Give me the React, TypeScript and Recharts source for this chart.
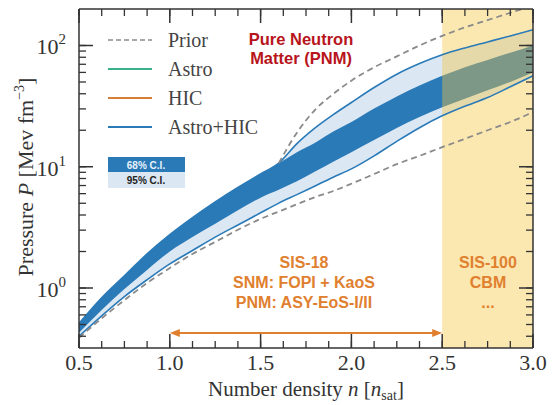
import { ComposedChart, Area, Line, XAxis, YAxis, ReferenceArea, ReferenceLine } from 'recharts';

// density n in units of n_sat
const density = [0.5, 0.625, 0.75, 0.875, 1.0, 1.125, 1.25, 1.375, 1.5, 1.6, 1.7, 1.8, 1.9, 2.0, 2.125, 2.25, 2.375, 2.5, 2.625, 2.75, 2.875, 3.0];

// pressure [MeV fm^-3]
const ci68High = [0.51, 0.83, 1.26, 1.91, 2.75, 3.8, 5.13, 6.76, 8.71, 10.7, 13.2, 15.8, 19.5, 23.4, 30.2, 38.0, 46.8, 56.2, 66.1, 75.9, 87.1, 100];
const ci68Low = [0.427, 0.66, 0.98, 1.41, 2.0, 2.63, 3.39, 4.37, 5.56, 6.46, 7.59, 9.12, 11.0, 13.2, 16.6, 20.9, 25.7, 30.9, 36.3, 42.7, 50.1, 59.8];
const ci95High = [0.51, 0.83, 1.26, 1.91, 2.75, 3.8, 5.13, 6.76, 8.71, 10.7, 15.5, 20.9, 26.9, 33.9, 45.0, 58.0, 71.0, 84.0, 95.5, 107, 120, 135];
const ci95Low = [0.4, 0.59, 0.85, 1.17, 1.58, 2.04, 2.63, 3.31, 4.17, 5.01, 5.89, 6.95, 8.2, 9.6, 12.3, 16.2, 21.0, 26.3, 31.6, 37.2, 45.7, 56.2];
const priorLow = [0.389, 0.562, 0.794, 1.1, 1.46, 1.91, 2.4, 3.02, 3.72, 4.27, 4.9, 5.62, 6.31, 7.24, 8.71, 10.5, 12.3, 14.5, 17.0, 20.0, 23.4, 28.2];
const priorHigh = [null, null, null, null, null, null, null, null, null, 10.7, 19.1, 29.5, 39.8, 51.3, 66.1, 81.3, 100, 120, 141, 162, 186, 214];

const xTicks = [0.5, 0.625, 0.75, 0.875, 1.0, 1.125, 1.25, 1.375, 1.5, 1.625, 1.75, 1.875, 2.0, 2.125, 2.25, 2.375, 2.5, 2.625, 2.75, 2.875, 3.0];
const yTicks = [0.4, 0.5, 0.6, 0.7, 0.8, 0.9, 1, 2, 3, 4, 5, 6, 7, 8, 9, 10, 20, 30, 40, 50, 60, 70, 80, 90, 100];

const hicRange = [1.0, 2.5];
const hicArrowLevel = 0.425;
const futureRange = [2.5, 3.0];

const data = density.map((n, i) => ({
    n,
    band95: [ci95Low[i], ci95High[i]],
    band68: [ci68Low[i], ci68High[i]],
    hi95: ci95High[i],
    lo95: ci95Low[i],
    priorLo: priorLow[i],
    priorHi: priorHigh[i],
}));

const AXIS = '#333';
const BLUE = '#2a7ab8';
const LIGHT = '#dbe8f4';
const ORANGE = '#e0802f';
const SERIF = '"Liberation Serif", serif';
const SANS = '"Liberation Sans", Arial, sans-serif';
const MINOR = 7; // minor tick length, drawn by recharts (inward)
const MAJOR = 14;

const isMajor = (v: number) => Math.abs(Math.log10(v) - Math.round(Math.log10(v))) < 1e-6;
const isMajorX = (v: number) => Math.abs(v * 2 - Math.round(v * 2)) < 1e-6;

const LeftTick = (props: any) => {
    const { x, y, payload } = props;
    const base = x - MINOR;
    if (!isMajor(payload.value)) return null;
    return (
        <g>
            <line x1={base} x2={base + MAJOR} y1={y} y2={y} stroke={AXIS} strokeWidth={1.5} />
            <text x={base - 13} y={y + 9} textAnchor="end" fontFamily={SERIF} fontSize={22} fill="#333">
                10<tspan dy={-10} fontSize={15}>{Math.round(Math.log10(payload.value))}</tspan>
            </text>
        </g>
    );
};

const RightTick = (props: any) => {
    const { x, y, payload } = props;
    const base = x + MINOR;
    if (!isMajor(payload.value)) return null;
    return <line x1={base} x2={base - MAJOR} y1={y} y2={y} stroke={AXIS} strokeWidth={1.5} />;
};

const BottomTick = (props: any) => {
    const { x, y, payload } = props;
    const base = y + MINOR;
    if (!isMajorX(payload.value)) return null;
    return (
        <g>
            <line x1={x} x2={x} y1={base} y2={base - MAJOR} stroke={AXIS} strokeWidth={1.5} />
            <text x={x} y={base + 22} textAnchor="middle" fontFamily={SERIF} fontSize={22} fill="#333">
                {payload.value.toFixed(1)}
            </text>
        </g>
    );
};

const TopTick = (props: any) => {
    const { x, y, payload } = props;
    const base = y - MINOR;
    if (!isMajorX(payload.value)) return null;
    return <line x1={x} x2={x} y1={base} y2={base + MAJOR} stroke={AXIS} strokeWidth={1.5} />;
};

const DoubleArrow = (props: any) => {
    const { x1, y1, x2, y2 } = props;
    return (
        <g>
            <line x1={x1 + 6} y1={y1} x2={x2 - 6} y2={y2} stroke={ORANGE} strokeWidth={2} />
            <polygon points={`${x1},${y1} ${x1 + 10},${y1 - 4} ${x1 + 10},${y1 + 4}`} fill={ORANGE} />
            <polygon points={`${x2},${y2} ${x2 - 10},${y2 - 4} ${x2 - 10},${y2 + 4}`} fill={ORANGE} />
        </g>
    );
};

const Overlay = () => (
    <svg width={553} height={405} style={{ position: 'absolute', left: 0, top: 0, pointerEvents: 'none' }}>
        {/* legend */}
        <line x1={108} x2={152} y1={40} y2={40} stroke="#8a8a8a" strokeWidth={1.6} strokeDasharray="5 3" />
        <line x1={108} x2={152} y1={69} y2={69} stroke="#38b28c" strokeWidth={1.8} />
        <line x1={108} x2={152} y1={98} y2={98} stroke="#d47f3a" strokeWidth={1.8} />
        <line x1={108} x2={152} y1={127} y2={127} stroke={BLUE} strokeWidth={1.8} />
        <g fontFamily={SERIF} fontSize={20} fill="#444">
            <text x={168} y={47}>Prior</text>
            <text x={168} y={76}>Astro</text>
            <text x={168} y={105}>HIC</text>
            <text x={168} y={134}>Astro+HIC</text>
        </g>
        <rect x={108} y={157} width={77} height={15} fill={BLUE} />
        <rect x={108} y={172} width={77} height={16} fill={LIGHT} />
        <text x={146} y={168.5} textAnchor="middle" fontFamily={SANS} fontWeight="bold" fontSize={10} fill="#e8f1fa">68% C.I.</text>
        <text x={146} y={184} textAnchor="middle" fontFamily={SANS} fontWeight="bold" fontSize={10} fill="#222">95% C.I.</text>

        <g fontFamily={SANS} fontWeight="bold" fontSize={16.5} fill="#b8141c" textAnchor="middle">
            <text x={301} y={45}>Pure Neutron</text>
            <text x={301} y={64}>Matter (PNM)</text>
        </g>
        <g fontFamily={SANS} fontWeight="bold" fontSize={16} fill={ORANGE} textAnchor="middle">
            <text x={304} y={268}>SIS-18</text>
            <text x={304} y={288}>SNM: FOPI + KaoS</text>
            <text x={304} y={308}>PNM: ASY-EoS-I/II</text>
            <text x={488} y={268}>SIS-100</text>
            <text x={488} y={288}>CBM</text>
            <text x={488} y={308}>...</text>
        </g>

        {/* axis titles */}
        <text x={306} y={396} textAnchor="middle" fontFamily={SERIF} fontSize={21} fill="#333">
            Number density <tspan fontStyle="italic">n</tspan> [<tspan fontStyle="italic">n</tspan>
            <tspan fontSize={14} dy={4}>sat</tspan>
            <tspan dy={-4}>]</tspan>
        </text>
        <text transform="translate(33,177) rotate(-90)" textAnchor="middle" fontFamily={SERIF} fontSize={22} fill="#333">
            Pressure <tspan fontStyle="italic">P</tspan> [Mev fm<tspan fontSize={14} dy={-9}>−3</tspan>
            <tspan dy={9}>]</tspan>
        </text>
    </svg>
);

const tickLineStyle = { stroke: AXIS, strokeWidth: 1.3 };
const axisLineStyle = { stroke: AXIS, strokeWidth: 1.5 };

const App = () => {
    return (
        <div style={{ position: 'absolute', left: 0, top: 0, width: 553, height: 405, background: '#fff' }}>
            <ComposedChart width={553} height={405} data={data} margin={{ top: 8, right: 19, left: 8, bottom: 0 }}>
                <XAxis
                    dataKey="n"
                    type="number"
                    domain={[0.5, 3.0]}
                    ticks={xTicks}
                    interval={0}
                    allowDataOverflow
                    height={57}
                    tickSize={-MINOR}
                    tickMargin={0}
                    tickLine={tickLineStyle}
                    tick={<BottomTick />}
                    axisLine={axisLineStyle}
                />
                <XAxis
                    xAxisId="top"
                    orientation="top"
                    dataKey="n"
                    type="number"
                    domain={[0.5, 3.0]}
                    ticks={xTicks}
                    interval={0}
                    allowDataOverflow
                    height={1}
                    tickSize={-MINOR}
                    tickMargin={0}
                    tickLine={tickLineStyle}
                    tick={<TopTick />}
                    axisLine={axisLineStyle}
                />
                <YAxis
                    scale="log"
                    domain={[0.32, 200]}
                    allowDataOverflow
                    ticks={yTicks}
                    interval={0}
                    width={71}
                    tickSize={-MINOR}
                    tickMargin={0}
                    tickLine={tickLineStyle}
                    tick={<LeftTick />}
                    axisLine={axisLineStyle}
                />
                <YAxis
                    yAxisId="right"
                    orientation="right"
                    scale="log"
                    domain={[0.32, 200]}
                    allowDataOverflow
                    ticks={yTicks}
                    interval={0}
                    width={1}
                    tickSize={-MINOR}
                    tickMargin={0}
                    tickLine={tickLineStyle}
                    tick={<RightTick />}
                    axisLine={axisLineStyle}
                />
                <Area type="monotone" dataKey="band95" fill={LIGHT} fillOpacity={1} stroke="none" isAnimationActive={false} />
                <Area type="monotone" dataKey="band68" fill={BLUE} fillOpacity={1} stroke="none" isAnimationActive={false} />
                <Line type="monotone" dataKey="hi95" stroke={BLUE} strokeWidth={1.6} dot={false} isAnimationActive={false} />
                <Line type="monotone" dataKey="lo95" stroke={BLUE} strokeWidth={1.6} dot={false} isAnimationActive={false} />
                <Line type="monotone" dataKey="priorLo" stroke="#8a8a8a" strokeWidth={1.8} strokeDasharray="6 4" dot={false} isAnimationActive={false} />
                <Line type="monotone" dataKey="priorHi" stroke="#8a8a8a" strokeWidth={1.8} strokeDasharray="6 4" dot={false} isAnimationActive={false} />
                <ReferenceArea x1={futureRange[0]} x2={futureRange[1]} fill="#f6c53f" fillOpacity={0.41} stroke="none" />
                <ReferenceLine
                    segment={[{ x: hicRange[0], y: hicArrowLevel }, { x: hicRange[1], y: hicArrowLevel }]}
                    shape={<DoubleArrow />}
                />
            </ComposedChart>
            <Overlay />
        </div>
    );
};

export default App;
